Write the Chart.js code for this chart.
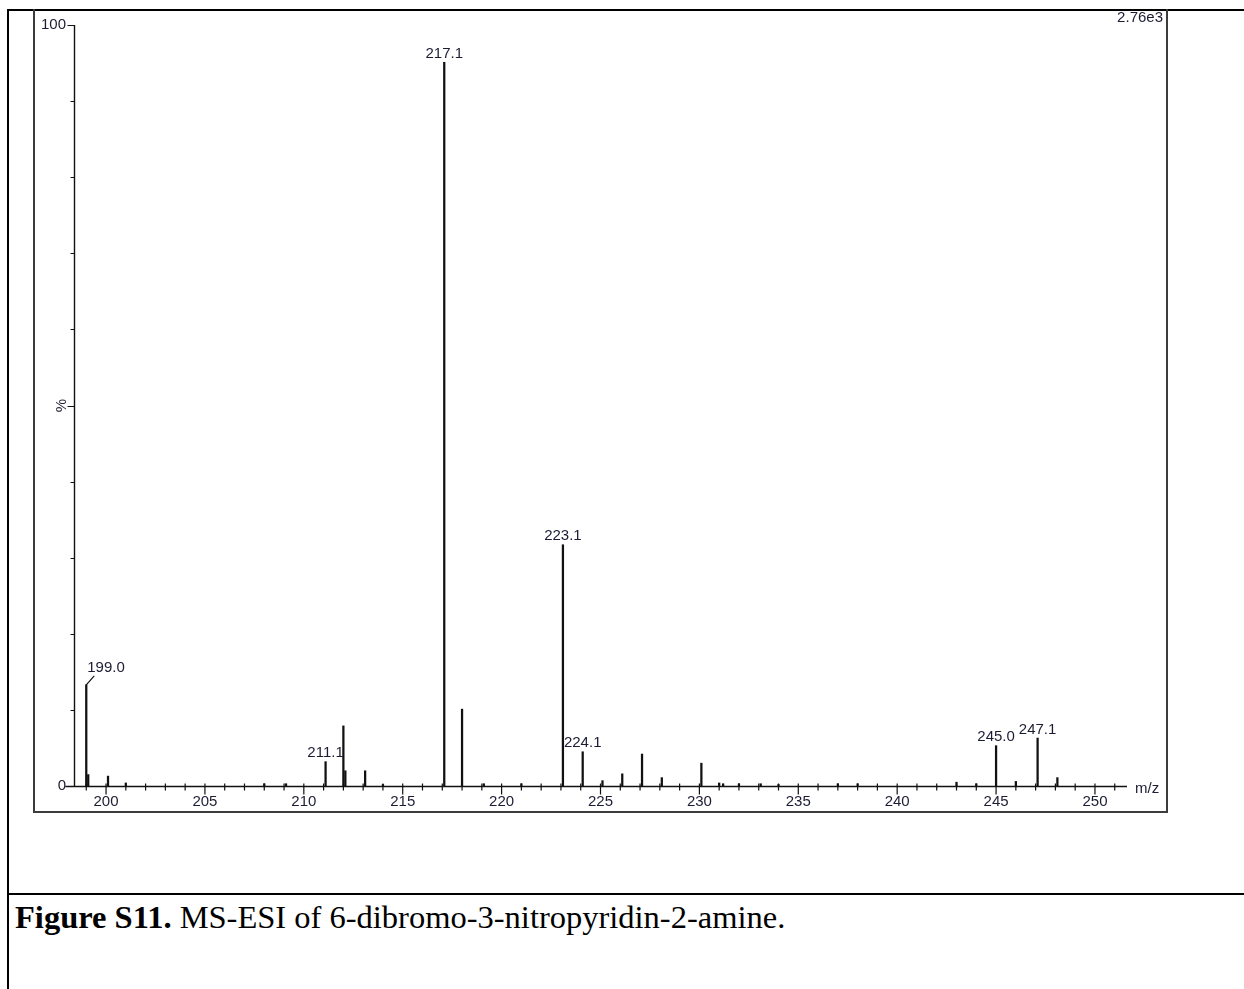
<!DOCTYPE html>
<html>
<head>
<meta charset="utf-8">
<script src="https://cdn.jsdelivr.net/npm/chart.js@4.4.1/dist/chart.umd.min.js"></script>
<style>
html,body{margin:0;padding:0;background:#fff;}
#page{position:relative;width:1244px;height:989px;overflow:hidden;background:#fff;}
#cv{position:absolute;left:0;top:0;}
.ln{position:absolute;background:#000;}
#caption{position:absolute;left:15px;top:900px;font-family:"Liberation Serif","Times New Roman",serif;font-size:32.5px;line-height:34px;color:#000;white-space:nowrap;}
</style>
</head>
<body>
<div id="page">
  <canvas id="cv" width="1244" height="830"></canvas>
  <div class="ln" style="left:8px;top:9px;width:1236px;height:2px;"></div>
  <div class="ln" style="left:7px;top:9px;width:2px;height:980px;"></div>
  <div class="ln" style="left:33px;top:9px;width:2px;height:804px;background:#3c3c3c;"></div>
  <div class="ln" style="left:1166px;top:9px;width:2px;height:804px;background:#3c3c3c;"></div>
  <div class="ln" style="left:33px;top:811px;width:1135px;height:2px;background:#3c3c3c;"></div>
  <div class="ln" style="left:8px;top:893px;width:1236px;height:2px;"></div>
  <div id="caption"><b>Figure S11.</b> MS-ESI of 6-dibromo-3-nitropyridin-2-amine.</div>
</div>
<script>
// ---- data ----
const mz = [199.0, 199.1, 200.1, 201.0, 208.0, 209.1, 211.1, 212.0, 212.1, 213.1, 214.0,
            217.1, 218.0, 219.1, 221.0, 223.1, 224.1, 225.1, 226.1, 227.1, 228.1, 230.1,
            231.0, 231.2, 232.0, 233.1, 234.0, 237.0, 238.0, 243.0, 244.0, 245.0, 246.0,
            247.1, 248.1];
const intensity = [13.3, 1.5, 1.3, 0.4, 0.3, 0.3, 3.2, 7.9, 2.0, 2.0, 0.2,
                   95.1, 10.1, 0.3, 0.3, 31.7, 4.5, 0.7, 1.6, 4.2, 1.1, 3.0,
                   0.4, 0.3, 0.3, 0.3, 0.2, 0.3, 0.3, 0.5, 0.3, 5.3, 0.6,
                   6.3, 1.1];
const labelMz = [199.0, 211.1, 217.1, 223.1, 224.1, 245.0, 247.1];
const xMinorTicks = [];
for (let v = 199; v <= 251; v++) xMinorTicks.push(v);
const xTickLabels = [200, 205, 210, 215, 220, 225, 230, 235, 240, 245, 250];
const yMinorTicks = [0, 10, 20, 30, 40, 50, 60, 70, 80, 90, 100];
const yMajorTicks = [0, 50, 100];
const yTickLabels = [0, 100];
const xMin = 198.38, xMax = 251.62;
const xTitle = 'm/z';
const yTitle = '%';
const scaleLabel = '2.76e3';

const FONT = '"Liberation Sans", Arial, sans-serif';
const TXT = '#1c1c34';

const msAxes = {
  id: 'msAxes',
  afterDatasetsDraw(chart) {
    const {ctx, chartArea: a, scales: {x, y}} = chart;
    const y0 = Math.round(y.getPixelForValue(0)) + 0.5;
    const y100 = y.getPixelForValue(100);
    const ax = Math.round(a.left) + 0.5;
    ctx.save();
    ctx.strokeStyle = '#111';
    ctx.lineWidth = 1.4;
    ctx.beginPath();
    ctx.moveTo(ax, y100); ctx.lineTo(ax, y0);
    ctx.moveTo(ax - 9, y0); ctx.lineTo(a.right, y0);
    ctx.stroke();
    ctx.lineWidth = 1.2;
    ctx.beginPath();
    yMinorTicks.forEach(v => {
      const py = Math.round(y.getPixelForValue(v)) + 0.5;
      const len = v === 0 ? 9 : (yMajorTicks.includes(v) ? 7 : 4);
      ctx.moveTo(ax - len, py); ctx.lineTo(ax, py);
    });
    xMinorTicks.forEach(v => {
      const px = x.getPixelForValue(v);
      const dn = xTickLabels.includes(v) ? 8 : 4;
      ctx.moveTo(px, y0 - 3); ctx.lineTo(px, y0 + dn);
    });
    ctx.stroke();

    ctx.font = '15px ' + FONT;
    ctx.fillStyle = TXT;
    ctx.textBaseline = 'middle';
    labelMz.forEach((m, i) => {
      const idx = mz.indexOf(m);
      const px = x.getPixelForValue(m), py = y.getPixelForValue(intensity[idx]);
      const txt = m.toFixed(1);
      if (i === 0) {
        ctx.beginPath();
        ctx.moveTo(px, py); ctx.lineTo(px + 8, py - 9);
        ctx.stroke();
        ctx.textAlign = 'left';
        ctx.fillText(txt, px + 1, py - 17);
      } else {
        ctx.textAlign = 'center';
        ctx.fillText(txt, px, py - 8.5);
      }
    });
    ctx.textAlign = 'left';
    ctx.fillText(xTitle, a.right + 8, y0 + 2);
    ctx.textAlign = 'right';
    ctx.fillText(scaleLabel, 1163, 18);
    ctx.restore();
  }
};

new Chart(document.getElementById('cv').getContext('2d'), {
  type: 'bar',
  data: {
    datasets: [{
      data: mz.map((m, i) => ({x: m, y: intensity[i]})),
      backgroundColor: '#111',
      borderWidth: 0,
      barThickness: 1.6,
      grouped: false
    }]
  },
  options: {
    responsive: false,
    animation: false,
    events: [],
    layout: {padding: {left: 34, top: 25, right: 117, bottom: 14}},
    plugins: {legend: {display: false}, tooltip: {enabled: false}},
    scales: {
      x: {
        type: 'linear', min: xMin, max: xMax, offset: false,
        grid: {display: false, drawTicks: false, tickLength: 0}, border: {display: false},
        afterBuildTicks: s => { s.ticks = xMinorTicks.map(v => ({value: v})); },
        afterFit: s => { s.height = 30; },
        ticks: {
          autoSkip: false, maxRotation: 0, minRotation: 0, padding: 7,
          color: TXT, font: {family: FONT, size: 15},
          callback: v => xTickLabels.includes(v) ? String(v) : ''
        }
      },
      y: {
        min: 0, max: 100,
        grid: {display: false, drawTicks: false, tickLength: 0}, border: {display: false},
        afterBuildTicks: s => { s.ticks = yMinorTicks.map(v => ({value: v})); },
        afterFit: s => { s.width = 40; },
        ticks: {
          autoSkip: false, padding: 8,
          color: TXT, font: {family: FONT, size: 15},
          callback: v => yTickLabels.includes(v) ? String(v) : ''
        },
        title: {display: true, text: yTitle, padding: {top: 19, bottom: 0}, color: TXT, font: {family: FONT, size: 15}}
      }
    }
  },
  plugins: [msAxes]
});
</script>
</body>
</html>
